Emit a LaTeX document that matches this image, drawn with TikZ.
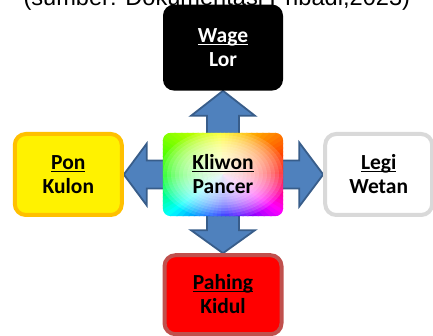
\documentclass[tikz,border=0pt]{standalone}
\usepackage{fontspec}
\newfontfamily\carlito{Carlito}
\newfontfamily\arialike{Liberation Sans}
\usetikzlibrary{positioning}
\usetikzlibrary{calc}
\usetikzlibrary{backgrounds}

\definecolor{arrowfill}{RGB}{79,129,189}
\definecolor{arrowline}{RGB}{56,93,138}
\definecolor{ponline}{RGB}{255,192,0}
\definecolor{legiline}{RGB}{217,217,217}
\definecolor{pahingline}{RGB}{192,80,77}

\newcommand{\udl}[1]{\underline{\vphantom{A}\smash{#1}}}

\begin{document}
\begin{tikzpicture}[x=1pt,y=1pt,
  main node/.style={rounded corners=11pt,align=center,inner sep=0pt,
    font=\carlito\bfseries\fontsize{21.5}{24}\selectfont},
  blockarrow/.style={fill=arrowfill,draw=arrowline,line width=1.8pt}]
  \useasboundingbox (0,0) rectangle (433,336);

  \node[anchor=base west,font=\arialike\fontsize{23.6}{28}\selectfont] (source) at (20,330) {(sumber: Dokumentasi Pribadi,2023)};

  \node[main node,minimum width=120pt,minimum height=83pt] (kliwon) at (223,161.5) {\udl{Kliwon}\\Pancer};
  \node[main node,fill=black,text=white,minimum width=120pt,minimum height=86pt] (wage) [above=42pt of kliwon] {\udl{Wage}\\Lor};
  \node[main node,fill=yellow,draw=ponline,line width=4pt,minimum width=107pt,minimum height=81pt] (pon) [left=39pt of kliwon] {\udl{Pon}\\Kulon};
  \node[main node,fill=white,draw=legiline,line width=4pt,minimum width=107pt,minimum height=81pt] (legi) [right=40pt of kliwon] {\udl{Legi}\\Wetan};
  \node[main node,fill=red,draw=pahingline,line width=4pt,minimum width=117pt,minimum height=79pt] (pahing) [below=37pt of kliwon] {\udl{Pahing}\\Kidul};

  \begin{scope}[on background layer]
    % block arrows out of the centre
    \draw[blockarrow] ($(kliwon.center)+(-16,0)$) |- ($(wage.south)+(-32,-25)$) -- (wage.south)
      -- ($(wage.south)+(32,-25)$) -| ($(kliwon.center)+(16,0)$) -- cycle;
    \draw[blockarrow] ($(kliwon.center)+(-16,0)$) |- ($(pahing.north)+(-32,23)$) -- (pahing.north)
      -- ($(pahing.north)+(32,23)$) -| ($(kliwon.center)+(16,0)$) -- cycle;
    \draw[blockarrow] ($(kliwon.center)+(0,14)$) -| ($(pon.east)+(23,31)$) -- (pon.east)
      -- ($(pon.east)+(23,-31)$) |- ($(kliwon.center)+(0,-14)$) -- cycle;
    \draw[blockarrow] ($(kliwon.center)+(0,14)$) -| ($(legi.west)+(-24,32)$) -- (legi.west)
      -- ($(legi.west)+(-24,-32)$) |- ($(kliwon.center)+(0,-14)$) -- cycle;

    % rainbow fill of the centre box, whitened towards the middle
    \begin{scope}
      \clip[rounded corners=8pt] (kliwon.south west) rectangle (kliwon.north east);
      \foreach \a in {0,4,...,356} {
        \pgfmathsetmacro\huev{\a<180 ? \a*2/3 : \a*4/3-120}
        \definecolor{wedge}{Hsb}{\huev,1,1}
        \fill[wedge] (kliwon.center) -- ($(kliwon.center)+(\a:130 and 90)$)
          -- ($(kliwon.center)+(\a+5:130 and 90)$) -- cycle;
      }
      \foreach \r in {4,8,...,64}
        \fill[white,fill opacity=0.14] (kliwon.center) ellipse ({\r} and {\r*0.7});
    \end{scope}
  \end{scope}
\end{tikzpicture}
\end{document}
